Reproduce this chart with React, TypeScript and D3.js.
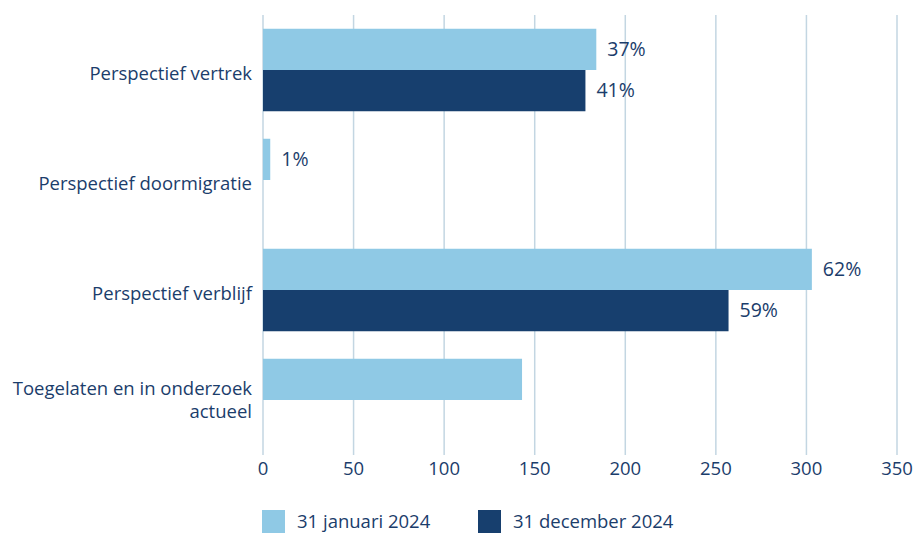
import React from "react";
import * as d3 from "d3";

const categories = [
  ["Perspectief vertrek"],
  ["Perspectief doormigratie"],
  ["Perspectief verblijf"],
  ["Toegelaten en in onderzoek", "actueel"],
];
const seriesNames = ["31 januari 2024", "31 december 2024"];
const janValues = [184, 4, 303, 143];
const decValues = [178, 0, 257, 0];
const janLabels = ["37%", "1%", "62%", ""];
const decLabels = ["41%", "", "59%", ""];
const xTicks = [0, 50, 100, 150, 200, 250, 300, 350];

const W = 917;
const H = 533;
const left = 263;
const right = 897;
const top = 15;
const bottom = 455;
const LIGHT = "#8fc9e5";
const DARK = "#173f6e";
const TEXT = "#1b3d6b";
const GRID = "#c3d6e2";
const FONT = "'Open Sans', sans-serif";
const FS = 18.5;

export default function App() {
  const x = d3.scaleLinear().domain([0, 350]).range([left, right]);
  const y = d3
    .scaleBand<number>()
    .domain(categories.map((_, i) => i))
    .range([top, bottom])
    .paddingInner(0.25)
    .paddingOuter(0.125);
  const sub = d3.scaleBand<number>().domain([0, 1]).range([0, y.bandwidth()]);
  const series = [janValues, decValues];
  const labels = [janLabels, decLabels];
  const colors = [LIGHT, DARK];

  return (
    <svg width={W} height={H} style={{ position: "absolute", left: 0, top: 0 }} fontFamily={FONT}>
      <rect width={W} height={H} fill="#fff" />
      {xTicks.map((t) => (
        <g key={t}>
          <line x1={x(t)} x2={x(t)} y1={top} y2={bottom} stroke={GRID} strokeWidth={1.5} />
          <text x={x(t)} y={469} dy="0.35em" textAnchor="middle" fontSize={FS} fill={TEXT}>
            {t}
          </text>
        </g>
      ))}
      {series.map((vals, s) =>
        vals.map((v, i) =>
          v > 0 ? (
            <g key={`${s}-${i}`}>
              <rect
                x={x(0)}
                y={(y(i) as number) + (sub(s) as number)}
                width={x(v) - x(0)}
                height={sub.bandwidth()}
                fill={colors[s]}
              />
              {labels[s][i] && (
                <text
                  x={x(v) + 11}
                  y={(y(i) as number) + (sub(s) as number) + sub.bandwidth() / 2}
                  dy="0.35em"
                  fontSize={19.5}
                  fill={TEXT}
                >
                  {labels[s][i]}
                </text>
              )}
            </g>
          ) : null
        )
      )}
      {categories.map((lines, i) => {
        const cy = (y(i) as number) + y.bandwidth() / 2;
        const lh = 23.5;
        const start = cy - ((lines.length - 1) * lh) / 2 + (lines.length === 1 ? 4 : 0);
        return (
          <text key={i} x={252} textAnchor="end" fontSize={FS} fill={TEXT}>
            {lines.map((l, j) => (
              <tspan key={j} x={252} y={start + j * lh} dy="0.35em">
                {l}
              </tspan>
            ))}
          </text>
        );
      })}
      {seriesNames.map((n, s) => {
        const lx = s === 0 ? 262 : 478;
        return (
          <g key={n}>
            <rect x={lx} y={510} width={23} height={23} fill={colors[s]} />
            <text x={lx + 35} y={528} fontSize={FS} fill={TEXT}>
              {n}
            </text>
          </g>
        );
      })}
    </svg>
  );
}
